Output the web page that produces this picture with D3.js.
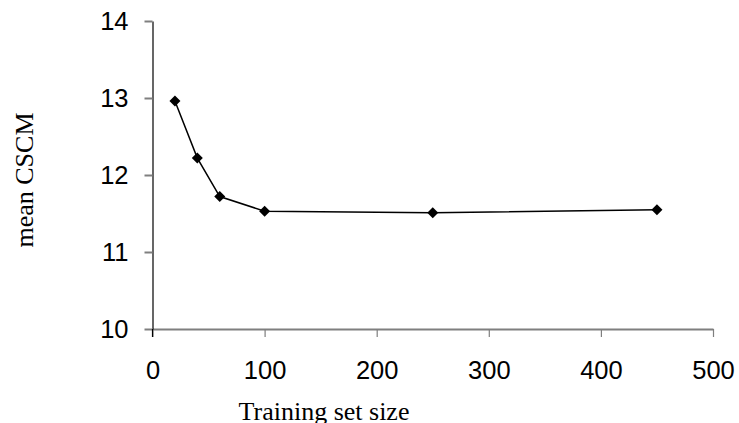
<!DOCTYPE html>
<html>
<head>
<meta charset="utf-8">
<script src="https://cdn.jsdelivr.net/npm/d3@7"></script>
<style>
  body { margin: 0; background: #fff; }
  svg { display: block; }
</style>
</head>
<body>
<script>
// training set size vs mean CSCM
var sizes = [20, 40, 60, 100, 250, 450];
var meanCSCM = [12.96, 12.22, 11.72, 11.53, 11.51, 11.55];
var xTicks = [0, 100, 200, 300, 400, 500];
var yTicks = [10, 11, 12, 13, 14];

var width = 739, height = 423;

var svg = d3.select("body").append("svg")
    .attr("width", width)
    .attr("height", height);

var x = d3.scaleLinear().domain([0, 500]).range([152.5, 713]);
var y = d3.scaleLinear().domain([10, 14]).range([329, 21]);

// x axis (gray)
var xAxis = svg.append("g")
    .attr("transform", "translate(0," + y(10) + ")")
    .call(d3.axisBottom(x).tickValues(xTicks).tickFormat(d3.format("d"))
      .tickSize(8).tickPadding(24).tickSizeOuter(0));
xAxis.select(".domain").attr("stroke", "#7f7f7f").attr("stroke-width", 2);
xAxis.selectAll(".tick line").attr("stroke", "#7f7f7f").attr("stroke-width", 1.2);
xAxis.selectAll("text")
    .style("font-family", "'Liberation Sans', Arial, sans-serif")
    .style("font-size", "25.5px")
    .attr("fill", "#000");

// y axis (black line, gray ticks)
var yAxis = svg.append("g")
    .attr("transform", "translate(" + x(0) + ",0)")
    .call(d3.axisLeft(y).tickValues(yTicks).tickFormat(d3.format("d"))
      .tickSize(8).tickPadding(16).tickSizeOuter(0));
yAxis.select(".domain").attr("stroke", "#000").attr("stroke-width", 1.2);
yAxis.selectAll(".tick line").attr("stroke", "#7f7f7f").attr("stroke-width", 2);
yAxis.selectAll("text")
    .style("font-family", "'Liberation Sans', Arial, sans-serif")
    .style("font-size", "25.5px")
    .attr("fill", "#000");

// y axis line runs a little past the x axis
svg.append("line")
    .attr("x1", x(0)).attr("x2", x(0))
    .attr("y1", y(10)).attr("y2", y(10) + 8)
    .attr("stroke", "#000").attr("stroke-width", 1.2);

// axis titles
svg.append("text")
    .attr("x", 324)
    .attr("y", 420)
    .attr("text-anchor", "middle")
    .style("font-family", "'Liberation Serif', 'Times New Roman', serif")
    .style("font-size", "26px")
    .text("Training set size");

svg.append("text")
    .attr("transform", "translate(33,180) rotate(-90)")
    .attr("text-anchor", "middle")
    .style("font-family", "'Liberation Serif', 'Times New Roman', serif")
    .style("font-size", "26px")
    .text("mean CSCM");

// line + markers
var pts = sizes.map(function(d, i) { return [d, meanCSCM[i]]; });

svg.append("path")
    .datum(pts)
    .attr("fill", "none")
    .attr("stroke", "#000")
    .attr("stroke-width", 1.5)
    .attr("d", d3.line()
      .x(function(d) { return x(d[0]); })
      .y(function(d) { return y(d[1]); }));

svg.selectAll("path.marker")
    .data(pts)
    .enter().append("path")
    .attr("class", "marker")
    .attr("transform", function(d) { return "translate(" + x(d[0]) + "," + y(d[1]) + ")"; })
    .attr("d", "M0,-5.5L5.5,0L0,5.5L-5.5,0Z")
    .attr("fill", "#000");
</script>
</body>
</html>
